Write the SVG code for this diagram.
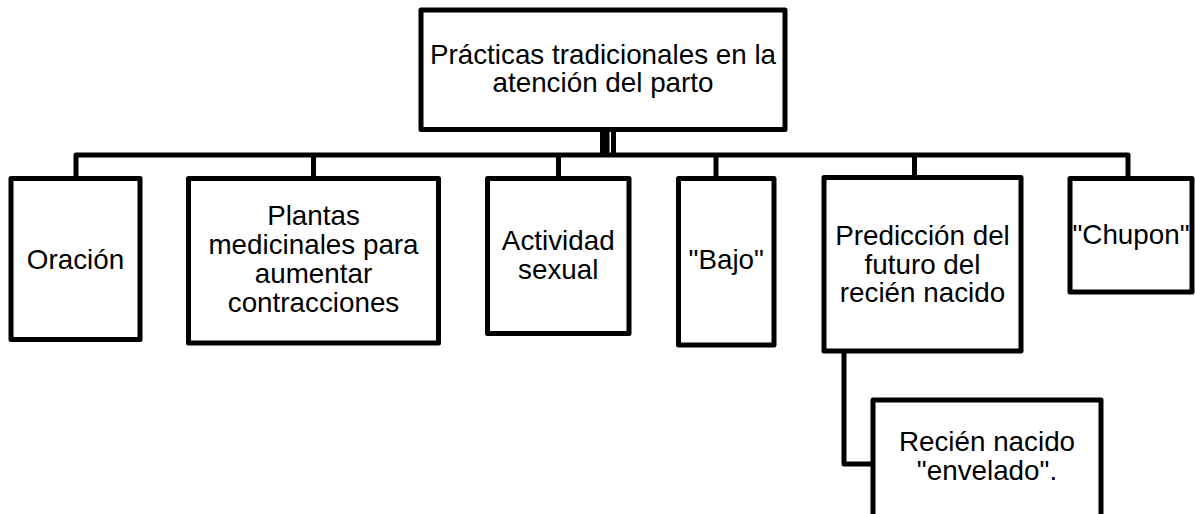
<svg xmlns="http://www.w3.org/2000/svg" width="1195" height="514" viewBox="0 0 1195 514">
<style>
.box{fill:#fff;stroke:#000;stroke-width:5;stroke-linejoin:round}
.conn{fill:none;stroke:#000;stroke-width:5;stroke-linejoin:round}
text{font-family:"Liberation Sans",Arial,sans-serif;font-size:27.8px;fill:#000;text-anchor:middle}
</style>
<rect width="1195" height="514" fill="#fff"/>
<g id="connectors">
<line class="conn" x1="604.75" y1="129" x2="604.75" y2="155" style="stroke-width:9.5"/>
<line class="conn" x1="613.5" y1="129" x2="613.5" y2="155"/>
<path class="conn" d="M76,178.5 V155 H1128 V178.5"/>
<line class="conn" x1="313.5" y1="155" x2="313.5" y2="178.5"/>
<line class="conn" x1="558.5" y1="155" x2="558.5" y2="178.5"/>
<line class="conn" x1="716" y1="155" x2="716" y2="178.5"/>
<line class="conn" x1="914.5" y1="155" x2="914.5" y2="178.5"/>
<path class="conn" d="M844,351 V464 H873"/>
</g>
<g id="root">
<rect class="box" x="421" y="10" width="364" height="119.5"/>
<text x="603" y="64">Prácticas tradicionales en la</text>
<text x="603" y="92">atención del parto</text>
</g>
<g id="oracion">
<rect class="box" x="11" y="178.5" width="129" height="161"/>
<text x="75.5" y="268.5">Oración</text>
</g>
<g id="plantas">
<rect class="box" x="188.5" y="178.5" width="250" height="164.5"/>
<text x="313.5" y="225">Plantas</text>
<text x="313.5" y="254">medicinales para</text>
<text x="313.5" y="283">aumentar</text>
<text x="313.5" y="312">contracciones</text>
</g>
<g id="actividad">
<rect class="box" x="487.5" y="178.5" width="141.5" height="155"/>
<text x="558.25" y="250">Actividad</text>
<text x="558.25" y="278.5">sexual</text>
</g>
<g id="bajo">
<rect class="box" x="678.5" y="178.5" width="95.5" height="166.5"/>
<text x="726.25" y="269">"Bajo"</text>
</g>
<g id="prediccion">
<rect class="box" x="824" y="177.5" width="197" height="173.5"/>
<text x="922.5" y="245">Predicción del</text>
<text x="922.5" y="273.5">futuro del</text>
<text x="922.5" y="302">recién nacido</text>
</g>
<g id="chupon">
<rect class="box" x="1070" y="178.5" width="122" height="113.5"/>
<text x="1131" y="244">"Chupon"</text>
</g>
<g id="envelado">
<rect class="box" x="873" y="400" width="228" height="140"/>
<text x="987" y="451">Recién nacido</text>
<text x="987" y="479.5">"envelado".</text>
</g>
</svg>
